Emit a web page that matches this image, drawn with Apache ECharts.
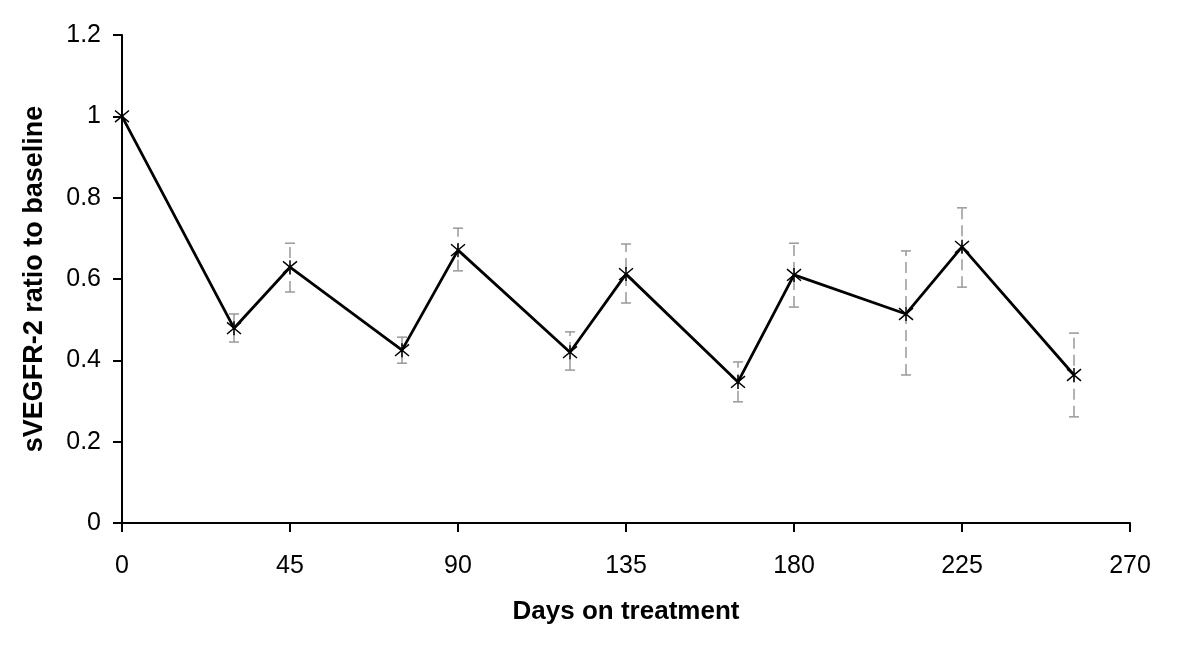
<!DOCTYPE html>
<html>
<head>
<meta charset="utf-8">
<script src="https://cdn.jsdelivr.net/npm/echarts@6/dist/echarts.min.js"></script>
<style>html,body{margin:0;padding:0;background:#fff}#c{width:1200px;height:649px}</style>
</head>
<body>
<div id="c"></div>
<script>
const days = [0, 30, 45, 75, 90, 120, 135, 165, 180, 210, 225, 255];
const ratio = [1.0, 0.479, 0.629, 0.425, 0.671, 0.420, 0.612, 0.347, 0.610, 0.514, 0.679, 0.364];
const errLow = [1.0, 0.445, 0.568, 0.393, 0.620, 0.376, 0.541, 0.298, 0.531, 0.364, 0.580, 0.261];
const errHigh = [1.0, 0.514, 0.688, 0.457, 0.725, 0.470, 0.686, 0.396, 0.688, 0.669, 0.775, 0.467];
const xTicks = [0, 45, 90, 135, 180, 225, 270];
const yTicks = [0, 0.2, 0.4, 0.6, 0.8, 1, 1.2];

const chart = echarts.init(document.getElementById('c'), null, {renderer: 'canvas'});
const starPath = 'path://M-1,-1L1,1M-1,1L1,-1M0,-1.2L0,1.2';
chart.setOption({
  animation: false,
  backgroundColor: '#fff',
  grid: {left: 122, right: 70, top: 35, bottom: 126, containLabel: false},
  xAxis: {
    type: 'value', min: 0, max: 270, interval: 45,
    name: 'Days on treatment', nameLocation: 'middle', nameGap: 76,
    nameTextStyle: {fontFamily: 'Liberation Sans', fontWeight: 'bold', fontSize: 26, color: '#000'},
    axisLine: {show: true, lineStyle: {color: '#000', width: 2}},
    axisTick: {show: true, inside: false, length: 9, lineStyle: {color: '#000', width: 2}},
    axisLabel: {margin: 31, fontFamily: 'Liberation Sans', fontSize: 25, color: '#000',
      formatter: v => xTicks.includes(v) ? String(v) : ''},
    splitLine: {show: false}
  },
  yAxis: {
    type: 'value', min: 0, max: 1.2, interval: 0.2,
    name: 'sVEGFR-2 ratio to baseline', nameLocation: 'middle', nameGap: 74,
    nameTextStyle: {fontFamily: 'Liberation Sans', fontWeight: 'bold', fontSize: 27, color: '#000'},
    axisLine: {show: true, lineStyle: {color: '#000', width: 2}},
    axisTick: {show: true, inside: false, length: 9, lineStyle: {color: '#000', width: 2}},
    axisLabel: {margin: 21, fontFamily: 'Liberation Sans', fontSize: 25, color: '#000',
      formatter: v => { const t = yTicks.find(y => Math.abs(y - v) < 1e-9); return t === undefined ? '' : String(t); }},
    splitLine: {show: false}
  },
  series: [
    {
      type: 'custom',
      z: 1,
      data: days.map((d, i) => [d, errLow[i], errHigh[i]]),
      renderItem: function (params, api) {
        const x = api.value(0), lo = api.value(1), hi = api.value(2);
        if (hi - lo < 1e-9) return null;
        const p1 = api.coord([x, lo]), p2 = api.coord([x, hi]);
        const cw = 5;
        const st = {stroke: '#999999', lineWidth: 1.5};
        return {
          type: 'group',
          children: [
            {type: 'line', shape: {x1: p1[0], y1: p1[1], x2: p2[0], y2: p2[1]}, style: Object.assign({lineDash: [11, 6]}, st)},
            {type: 'line', shape: {x1: p1[0] - cw, y1: p1[1], x2: p1[0] + cw, y2: p1[1]}, style: st},
            {type: 'line', shape: {x1: p2[0] - cw, y1: p2[1], x2: p2[0] + cw, y2: p2[1]}, style: st}
          ]
        };
      }
    },
    {
      type: 'line',
      z: 3,
      data: days.map((d, i) => [d, ratio[i]]),
      lineStyle: {color: '#000', width: 2.8},
      symbol: starPath,
      symbolSize: 14,
      itemStyle: {color: 'none', borderColor: '#000', borderWidth: 1.5},
      showSymbol: true
    }
  ]
});
</script>
</body>
</html>
